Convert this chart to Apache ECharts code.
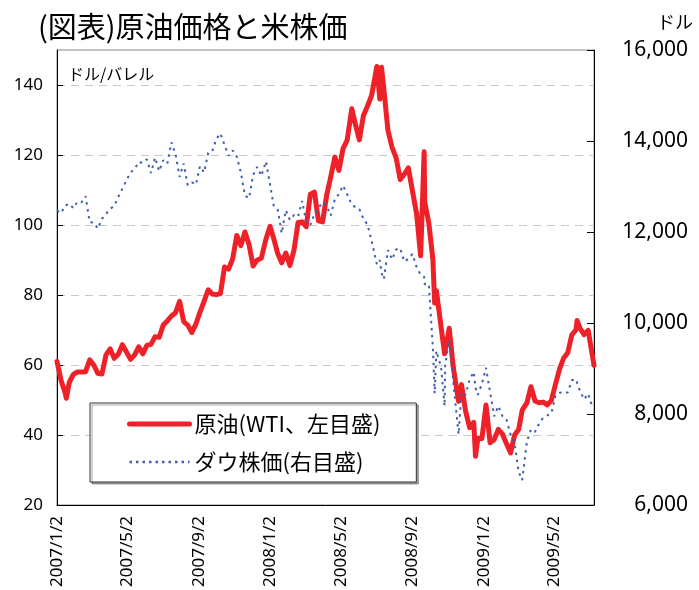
<!DOCTYPE html>
<html>
<head>
<meta charset="utf-8">
<script src="https://cdn.jsdelivr.net/npm/echarts@6/dist/echarts.min.js"></script>
<style>
html,body{margin:0;padding:0;background:#fff;}
#chart{width:699px;height:590px;}
</style>
</head>
<body>
<div id="chart"></div>
<script>
const dates = [
'2007/1/2','2007/1/9','2007/1/16','2007/1/18','2007/1/23','2007/1/30','2007/2/6','2007/2/13','2007/2/20','2007/2/27',
'2007/3/6','2007/3/13','2007/3/20','2007/3/27','2007/4/3','2007/4/10','2007/4/17','2007/4/24','2007/5/1','2007/5/8',
'2007/5/15','2007/5/22','2007/5/29','2007/6/5','2007/6/12','2007/6/19','2007/6/26','2007/7/3','2007/7/10','2007/7/17',
'2007/7/24','2007/7/31','2007/8/7','2007/8/14','2007/8/21','2007/8/28','2007/9/4','2007/9/11','2007/9/18','2007/9/25',
'2007/10/2','2007/10/9','2007/10/16','2007/10/23','2007/10/30','2007/11/6','2007/11/13','2007/11/20','2007/11/27','2007/12/4',
'2007/12/11','2007/12/18','2007/12/26','2008/1/2','2008/1/8','2008/1/15','2008/1/22','2008/1/29','2008/2/5','2008/2/12',
'2008/2/19','2008/2/26','2008/3/4','2008/3/11','2008/3/18','2008/3/25','2008/4/1','2008/4/8','2008/4/15','2008/4/22',
'2008/4/29','2008/5/6','2008/5/13','2008/5/21','2008/5/27','2008/6/3','2008/6/10','2008/6/17','2008/6/24','2008/7/3',
'2008/7/8','2008/7/11','2008/7/15','2008/7/22','2008/7/29','2008/8/5','2008/8/12','2008/8/19','2008/8/26','2008/9/2',
'2008/9/9','2008/9/16','2008/9/22','2008/9/23','2008/9/30','2008/10/7','2008/10/10','2008/10/13','2008/10/21','2008/10/27',
'2008/10/28','2008/11/4','2008/11/11','2008/11/20','2008/11/25','2008/12/2','2008/12/9','2008/12/16','2008/12/19','2008/12/23',
'2008/12/30','2009/1/6','2009/1/13','2009/1/20','2009/1/27','2009/2/3','2009/2/10','2009/2/17','2009/2/24','2009/3/3',
'2009/3/9','2009/3/17','2009/3/24','2009/3/31','2009/4/7','2009/4/14','2009/4/21','2009/4/28','2009/5/5','2009/5/12',
'2009/5/19','2009/5/26','2009/6/2','2009/6/9','2009/6/11','2009/6/16','2009/6/23','2009/6/30','2009/7/7','2009/7/10'
];
const oilPrice = [
61.0,55.6,52.0,50.5,55.0,57.3,58.0,58.0,58.1,61.5,
60.0,57.6,57.4,62.9,64.6,61.9,63.1,65.8,63.7,61.6,
62.9,65.2,63.2,65.6,65.9,68.1,67.9,71.4,72.6,74.0,
74.9,78.2,72.4,71.4,69.3,71.7,75.1,78.2,81.5,80.3,
80.1,80.4,88.0,87.4,90.4,97.0,94.1,98.0,94.4,88.3,
90.0,90.5,96.0,99.6,96.3,91.9,89.2,92.0,88.4,92.8,
100.7,100.9,99.5,108.8,109.4,101.2,100.9,108.5,113.8,119.4,
115.6,121.8,124.2,133.2,128.9,124.3,131.3,134.0,137.0,145.3,
136.0,145.1,138.7,127.0,122.2,119.2,113.0,114.5,116.3,109.7,
103.3,91.2,120.9,106.6,100.6,90.1,77.7,81.2,70.9,63.2,
62.7,70.5,59.3,49.6,54.4,46.8,42.1,43.6,33.9,39.0,
39.0,48.6,37.8,38.7,41.6,40.3,37.6,34.9,40.0,41.6,
47.1,49.2,53.8,49.7,49.2,49.4,48.6,49.9,54.5,58.8,
62.0,63.5,68.6,70.0,72.7,70.5,68.7,69.9,62.9,59.9
];
const dowIndex = [
12474,12416,12582,12567,12621,12523,12666,12654,12786,12216,
12207,12075,12289,12397,12510,12573,12773,12953,13136,13310,
13383,13539,13521,13596,13295,13636,13337,13577,13501,13971,
13716,13212,13504,13028,13090,13041,13448,13308,13739,13779,
14047,14165,13912,13676,13792,13660,13307,12799,12743,13249,
13432,13232,13551,13044,12589,12501,11971,12480,12265,12373,
12337,12684,12213,12156,12392,12532,12654,12577,12362,12721,
12832,13021,12832,12601,12548,12503,12289,12160,11807,11288,
11384,11100,10962,11603,11397,11616,11643,11349,11412,11516,
11231,11060,11016,10854,10851,9447,8451,9387,9034,8176,
9065,9625,8693,7552,8479,8419,8761,8924,8579,8419,
8668,9015,8474,7949,8174,7957,7888,7552,7350,6726,
6547,7395,7660,7609,7790,7920,7969,8016,8410,8469,
8475,8473,8740,8764,8740,8505,8322,8447,8163,8146
];
const xTickLabels = ['2007/1/2','2007/5/2','2007/9/2','2008/1/2','2008/5/2','2008/9/2','2009/1/2','2009/5/2'];
const leftTicks = [20,40,60,80,100,120,140];
const rightTicks = [6000,8000,10000,12000,14000,16000];
const seriesNames = ['原油(WTI、左目盛)','ダウ株価(右目盛)'];

function toTs(s){ const p = s.split('/').map(Number); return Date.UTC(p[0], p[1]-1, p[2]); }
function fmtDate(v){ const d = new Date(v); return d.getUTCFullYear() + '/' + (d.getUTCMonth()+1) + '/' + d.getUTCDate(); }

const chart = echarts.init(document.getElementById('chart'), null, {renderer:'canvas'});
const numFont = 'Noto Sans';
const cjkFont = 'Noto Sans CJK JP';
const hiddenSymbol = {color: 'rgba(0,0,0,0)', borderWidth: 0, opacity: 0};
chart.setOption({
  animation: false,
  backgroundColor: '#fff',
  title: {
    text: '(図表)原油価格と米株価',
    left: 38, top: 12, padding: 0,
    textStyle: {fontSize: 29, fontWeight: 'normal', fontFamily: cjkFont, color: '#000'}
  },
  graphic: [
    {type:'text', left: 68, top: 66, style:{text:'ドル/バレル', fontSize:16, fontFamily:cjkFont, fill:'#000'}},
    {type:'text', left: 657, top: 13, style:{text:'ドル', fontSize:18, fontFamily:cjkFont, fill:'#000'}}
  ],
  grid: {left: 57, right: 105, top: 50, bottom: 85, show: true, borderColor: '#888', borderWidth: 1, backgroundColor: 'transparent'},
  legend: {
    orient: 'vertical', left: 90, top: 403,
    backgroundColor: '#fff', borderColor: '#333', borderWidth: 1,
    shadowColor: 'rgba(0,0,0,0.35)', shadowBlur: 0, shadowOffsetX: 2, shadowOffsetY: 2,
    padding: [10, 36, 9, 37],
    itemWidth: 60, itemHeight: 14, itemGap: 16,
    textStyle: {fontSize: 22, fontFamily: cjkFont, color: '#000'},
    data: [
      {name: seriesNames[0], itemStyle: hiddenSymbol, lineStyle: {width: 5}},
      {name: seriesNames[1], itemStyle: hiddenSymbol, lineStyle: {width: 2.5, type: [2.5, 4]}}
    ]
  },
  xAxis: {
    type: 'value',
    min: toTs('2007/1/2'), max: toTs('2009/7/10'),
    axisLine: {show: true, onZero: false, lineStyle: {color: '#000', width: 1}},
    axisTick: {show: false},
    splitLine: {show: false},
    axisLabel: {
      customValues: xTickLabels.map(toTs),
      formatter: fmtDate,
      rotate: 90, margin: 11,
      fontSize: 17, fontFamily: numFont, color: '#000'
    }
  },
  yAxis: [
    {
      type: 'value', position: 'left', min: 20, max: 150, interval: 20,
      axisLine: {show: true, lineStyle: {color: '#000', width: 1}},
      axisTick: {show: true, inside: true, length: 6, customValues: leftTicks, lineStyle: {color: '#000'}},
      axisLabel: {customValues: leftTicks, fontSize: 17, fontFamily: numFont, color: '#000', margin: 14},
      splitLine: {show: true, lineStyle: {color: '#c8c8c8', width: 1, type: [8, 6]}}
    },
    {
      type: 'value', position: 'right', min: 6000, max: 16000, interval: 2000,
      axisLine: {show: true, lineStyle: {color: '#000', width: 1}},
      axisTick: {show: true, inside: true, length: 7, customValues: rightTicks, lineStyle: {color: '#000'}},
      axisLabel: {
        customValues: rightTicks,
        formatter: v => v.toLocaleString('en-US'),
        fontSize: 21, fontFamily: numFont, color: '#000', align: 'right', margin: 94
      },
      splitLine: {show: false}
    }
  ],
  series: [
    {
      name: seriesNames[0], type: 'line', yAxisIndex: 0,
      data: dates.map((d, i) => [toTs(d), oilPrice[i]]),
      symbol: 'none', showSymbol: false,
      lineStyle: {color: '#ee2128', width: 5, join: 'round', cap: 'round'},
      itemStyle: {color: '#ee2128'}
    },
    {
      name: seriesNames[1], type: 'line', yAxisIndex: 1,
      data: dates.map((d, i) => [toTs(d), dowIndex[i]]),
      symbol: 'none', showSymbol: false,
      lineStyle: {color: '#3e5fae', width: 2, type: [2.5, 4.5]},
      itemStyle: {color: '#3e5fae'}
    }
  ]
});
</script>
</body>
</html>
